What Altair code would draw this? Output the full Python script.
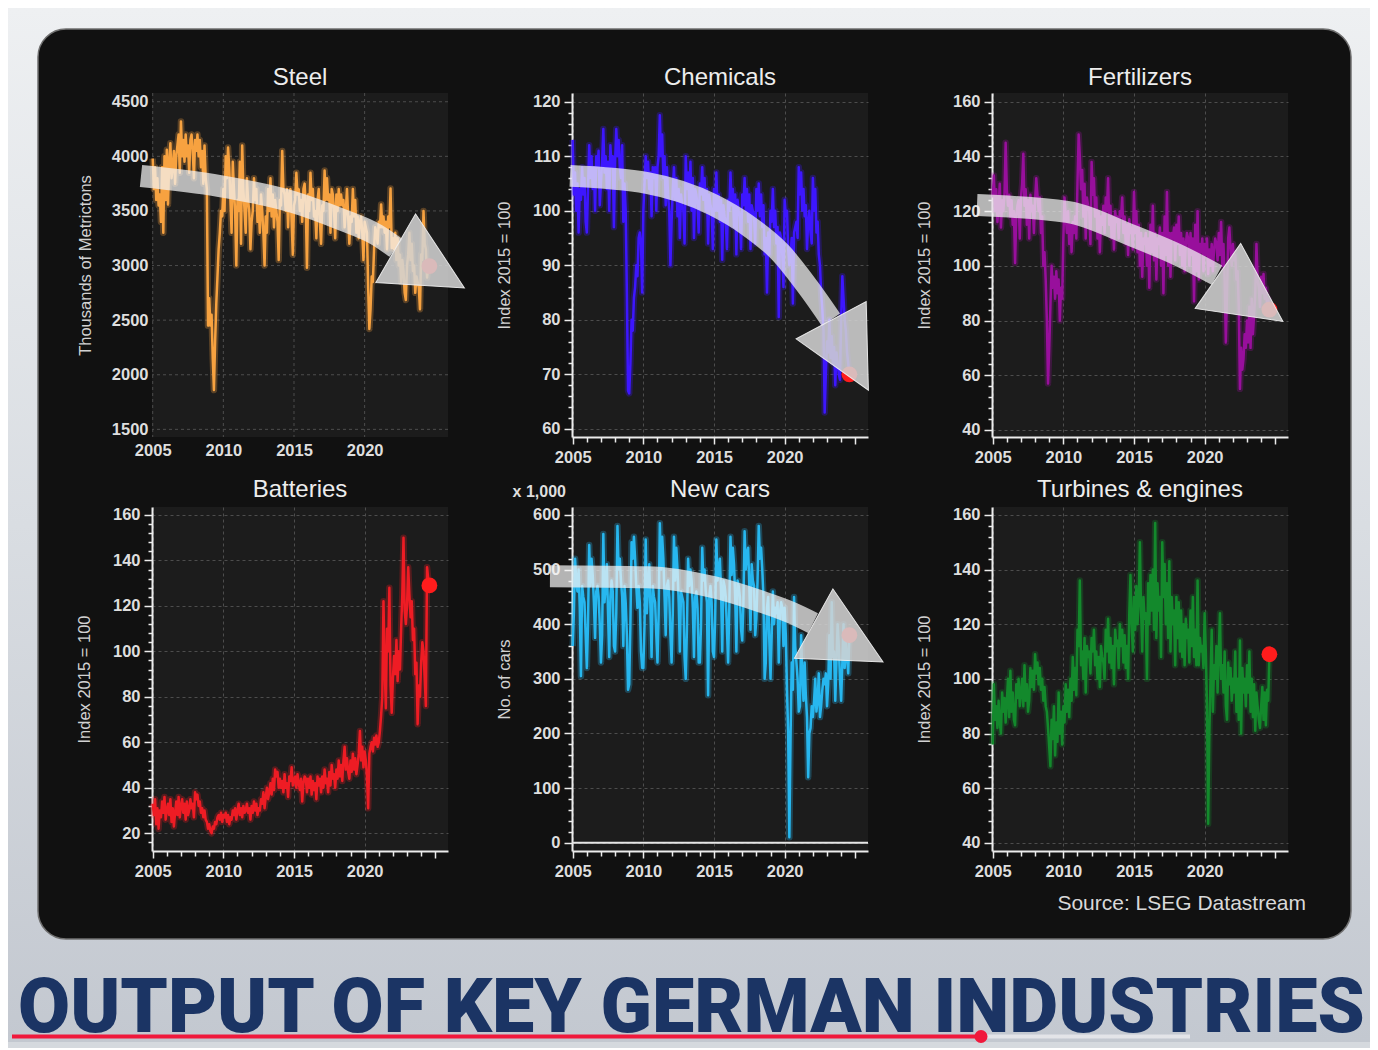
import altair as alt
import pandas as pd

FONT = "Liberation Sans"
START = 2005

# ---------------- monthly series, Jan 2005 .. Aug 2024 ----------------
STEEL = [
 3980, 3700, 3900, 3600, 3800, 3550, 3650, 3400, 3900, 3300, 4000, 3600,
 4060, 3560, 3950, 4120, 3800, 3900, 4050, 3750, 4000, 4100, 4200, 3850,
 4320, 4000, 4150, 3950, 4200, 4000, 4100, 3850, 4150, 4200, 4050, 3800,
 4150, 4050, 4200, 4000, 4150, 3900, 4050, 3750, 4100, 3800, 3700, 2450,
 2700, 2450, 2550, 2150, 1860, 2300, 2650, 2900, 3150, 3300, 3500, 3450,
 3700, 3500, 4000, 3800, 4080, 3900, 3600, 3300, 3950, 3700, 3500, 3000,
 3600, 3500, 3950, 3200, 4100, 3700, 3500, 3300, 3800, 3600, 3500, 3150,
 3400, 3500, 3800, 3600, 3700, 3400, 3550, 3300, 3650, 3500, 3300, 3000,
 3450, 3300, 3700, 3500, 3800, 3450, 3650, 3350, 3600, 3500, 3400, 3050,
 3600, 3550, 4050, 3700, 3650, 3500, 3700, 3350, 3650, 3700, 3400, 3100,
 3550, 3600, 3850, 3650, 3700, 3500, 3600, 3400, 3700, 3750, 3550, 2980,
 3650, 3500, 3850, 3600, 3700, 3450, 3500, 3250, 3600, 3700, 3400, 3200,
 3550, 3500, 3870, 3600, 3800, 3600, 3650, 3300, 3700, 3650, 3500, 3250,
 3650, 3500, 3700, 3550, 3650, 3550, 3600, 3350, 3500, 3700, 3450, 3200,
 3450, 3400, 3700, 3450, 3600, 3300, 3450, 3250, 3400, 3450, 3300, 3050,
 3400, 3350, 3300, 2800, 2420, 2600, 2900, 2850, 3150, 3350, 3300, 3200,
 3400, 3350, 3560, 3350, 3450, 3300, 3400, 3150, 3450, 3350, 3706, 3160,
 3250, 3150, 3300, 3050, 3250, 3000, 3100, 2850, 3050, 2950, 2750, 2684,
 3000, 3100, 3300, 3050, 3200, 2950, 3000, 2750, 2900, 2850, 2800, 2600,
 3100, 3050, 3500, 3200, 3150, 2890, 3000, 2995]

CHEM = [
 113, 103, 107, 100, 105, 96, 104, 102, 108, 103, 106, 98,
 96, 104, 112, 106, 110, 104, 108, 100, 110, 108, 111, 101,
 105, 109, 115, 107, 110, 104, 109, 100, 112, 108, 110, 97,
 109, 115, 110, 113, 108, 106, 112, 98, 105, 100, 85, 67,
 66.5, 72, 80, 78, 84, 86, 90, 88, 95, 96, 94, 85,
 100, 105, 110, 106, 109, 104, 107, 99, 108, 106, 108, 100,
 108, 110, 117.5, 110, 114, 106, 110, 101, 108, 103, 100, 90,
 98, 104, 108, 102, 106, 99, 104, 95, 103, 101, 100, 94,
 110, 104, 107, 101, 109, 100, 106, 95, 104, 103, 101, 96,
 105, 103, 108, 102, 106, 100, 104, 94, 103, 101, 100, 93,
 104, 100, 107, 100, 103, 98, 102, 91, 101, 99, 98, 93,
 102, 100, 107, 101, 104, 97, 103, 92, 102, 100, 99, 93,
 103, 101, 106, 100, 104, 98, 103, 93, 101, 100, 99, 94,
 104, 100, 105, 99, 103, 97, 101, 92, 95, 85, 96, 92,
 100, 98, 104, 97, 100, 94, 97, 80.5, 96, 95, 92, 86,
 102, 99, 100, 93, 90, 92, 95, 83, 96, 97, 98, 95,
 108, 103, 107, 100, 104, 99, 101, 93, 98, 100, 96, 94,
 106, 100, 104, 96, 98, 92, 90, 85, 82, 78, 63, 70,
 76, 74, 80, 73, 77, 72, 75, 68, 74, 72, 70, 69,
 80, 88, 84, 80, 78, 74, 72, 70]

FERT = [
 125, 133, 120, 128, 116, 122, 130, 114, 124, 120, 126, 145,
 128, 122, 126, 118, 124, 115, 120, 101, 118, 122, 124, 110,
 125, 130, 141, 122, 128, 115, 124, 110, 126, 120, 122, 112,
 124, 132, 126, 120, 125, 112, 118, 100, 105, 95, 80, 57,
 70, 85, 100, 92, 96, 88, 98, 90, 95, 80, 92, 88,
 110, 125, 118, 112, 120, 108, 115, 105, 116, 112, 118, 110,
 130, 148, 140, 128, 135, 118, 130, 110, 125, 122, 120, 108,
 138, 126, 132, 118, 125, 110, 120, 105, 118, 115, 122, 112,
 125, 120, 132, 115, 122, 110, 118, 106, 120, 116, 118, 110,
 120, 118, 125, 112, 118, 108, 115, 104, 117, 112, 114, 106,
 127, 112, 120, 105, 115, 100, 112, 96, 110, 108, 112, 100,
 110, 92, 115, 105, 122, 102, 112, 95, 110, 108, 114, 100,
 112, 90, 118, 104, 127, 100, 112, 96, 112, 110, 114, 102,
 115, 108, 118, 104, 112, 100, 110, 98, 108, 112, 110, 100,
 112, 104, 110, 87, 115, 98, 120, 95, 108, 105, 110, 98,
 108, 104, 110, 97, 106, 100, 108, 98, 106, 110, 108, 102,
 112, 104, 116, 100, 108, 95, 72, 90, 110, 114, 106, 100,
 108, 102, 104, 95, 98, 85, 55, 70, 62, 66, 75, 70,
 80, 72, 85, 70, 88, 75, 82, 90, 108, 95, 92, 85,
 96, 90, 97, 88, 92, 86, 88, 84]

BATT = [
 33, 28, 35, 24, 31, 22, 30, 27, 34, 29, 36, 26,
 30, 33, 28, 35, 25, 31, 23, 29, 34, 28, 36, 27,
 32, 35, 29, 33, 26, 34, 28, 30, 35, 31, 33, 27,
 38, 35, 37, 32, 34, 29, 31, 27, 30, 26, 25, 22,
 24, 21, 20, 23, 22, 25, 24, 27, 28, 26, 29, 25,
 28, 27, 29, 25, 28, 24, 27, 26, 30, 28, 31, 26,
 30, 33, 28, 31, 27, 32, 29, 30, 33, 29, 31, 26,
 32, 29, 34, 30, 33, 28, 31, 30, 35, 33, 38, 31,
 36, 40, 35, 38, 42, 37, 44, 39, 48, 45, 47, 40,
 44, 40, 43, 38, 46, 40, 42, 36, 45, 43, 49, 41,
 43, 45, 40, 46, 42, 39, 44, 34, 42, 45, 44, 38,
 44, 40, 45, 37, 43, 39, 42, 35, 45, 41, 44, 38,
 45, 40, 48, 42, 44, 38, 47, 41, 50, 44, 46, 40,
 48, 44, 52, 45, 50, 43, 52, 58, 48, 53, 47, 44,
 52, 47, 55, 48, 53, 46, 50, 55, 65, 52, 58, 49,
 56, 52, 45, 31, 55, 58, 60, 56, 62, 59, 63, 58,
 60, 65, 72, 80, 122, 93, 75, 110, 100, 128, 85, 73,
 88, 98, 90, 105, 87, 100, 92, 110, 125, 150, 118, 112,
 120, 137, 125, 115, 122, 105, 110, 90, 95, 68, 85, 80,
 95, 104, 100, 88, 76, 137, 132, 129]

CARS = [
 360, 420, 520, 480, 460, 500, 430, 305, 470, 450, 440, 380,
 320, 400, 545, 470, 520, 490, 440, 375, 460, 470, 450, 400,
 330, 380, 565, 440, 470, 510, 420, 340, 450, 480, 460, 360,
 350, 420, 580, 500, 520, 480, 450, 360, 470, 440, 380, 280,
 290, 400, 550, 520, 560, 520, 470, 430, 470, 440, 350, 320,
 320, 400, 555, 420, 470, 510, 430, 340, 470, 450, 440, 380,
 330, 420, 585, 500, 560, 520, 450, 380, 470, 480, 450, 380,
 330, 420, 560, 480, 540, 500, 440, 350, 460, 450, 440, 340,
 300, 390, 520, 470, 500, 480, 430, 340, 450, 460, 430, 330,
 330, 400, 540, 480, 500, 460, 440, 270, 450, 470, 440, 350,
 340, 410, 555, 480, 500, 520, 460, 350, 480, 470, 450, 390,
 330, 430, 560, 490, 540, 510, 450, 350, 480, 470, 450, 390,
 370, 440, 570, 500, 530, 540, 470, 390, 510, 480, 470, 380,
 410, 480, 580, 520, 540, 500, 450, 300, 330, 430, 450, 370,
 300, 380, 460, 400, 430, 420, 440, 330, 420, 440, 430, 360,
 430, 380, 280, 200, 10, 190, 330, 280, 450, 360, 330, 300,
 240, 250, 380, 310, 260, 330, 270, 230, 120, 200, 210, 250,
 230, 260, 300, 240, 260, 310, 230, 250, 280, 300, 290, 310,
 250, 290, 380, 300, 440, 340, 350, 260, 330, 400, 360, 300,
 260, 330, 400, 320, 370, 340, 310, 380]

TURB = [
 76, 98, 85, 90, 82, 92, 84, 80, 95, 88, 93, 84,
 92, 100, 86, 103, 88, 95, 85, 83, 98, 93, 100, 90,
 95, 100, 90, 105, 92, 98, 88, 92, 104, 97, 103, 96,
 109, 102, 106, 98, 104, 96, 100, 92, 97, 90, 88, 82,
 75, 68, 85, 78, 90, 72, 84, 77, 95, 80, 88, 76,
 90, 84, 98, 88, 96, 86, 100, 92, 108, 96, 104, 94,
 118, 112, 136, 105, 110, 100, 115, 95, 112, 108, 110, 102,
 115, 110, 118, 105, 110, 100, 108, 97, 112, 108, 106, 100,
 118, 110, 122, 106, 115, 104, 112, 98, 118, 112, 114, 104,
 120, 112, 118, 106, 116, 104, 112, 100, 124, 138, 120, 110,
 130, 118, 134, 120, 128, 150, 125, 110, 130, 122, 124, 100,
 135, 120, 138, 125, 140, 118, 157, 115, 135, 125, 130, 108,
 150, 130, 142, 120, 135, 115, 143, 110, 130, 120, 125, 105,
 130, 115, 128, 110, 125, 108, 120, 105, 122, 115, 118, 106,
 125, 112, 130, 108, 118, 105, 136, 105, 115, 110, 112, 104,
 124, 110, 90, 47, 80, 100, 118, 88, 105, 100, 112, 95,
 110, 124, 100, 105, 95, 110, 90, 85, 106, 98, 104, 92,
 100, 95, 110, 88, 100, 85, 114, 80, 104, 95, 100, 90,
 105, 95, 110, 88, 100, 86, 98, 81, 95, 90, 85, 82,
 90, 97, 85, 95, 83, 96, 92, 109]

# ---------------- hand-drawn trend arrows (data space) ----------------
ARROW_STEEL_T = [2004.17, 2009.76, 2014.93, 2018.26, 2020.87, 2022.22]
ARROW_STEEL_V = [3820, 3728, 3582, 3426, 3280, 3161]
HEAD_STEEL = [2024.63, 2977, 30]
ARROW_CHEM_T = [2004.81, 2010.26, 2014.93, 2017.34, 2019.67, 2021.79, 2023.28]
ARROW_CHEM_V = [106.4, 105.1, 101.1, 97.4, 92.4, 85.5, 80.0]
HEAD_CHEM = [2024.61, 73.5, 62]
ARROW_FERT_T = [2003.89, 2010.26, 2014.93, 2018.26, 2020.87]
ARROW_FERT_V = [122.2, 119.7, 110.9, 103.6, 96.6]
HEAD_FERT = [2023.24, 88.0, 35]
ARROW_CARS_T = [2003.39, 2010.26, 2014.93, 2018.26, 2020.38, 2022.01]
ARROW_CARS_V = [488, 486, 468, 442, 422, 402]
HEAD_CARS = [2024.51, 366, 29]

# ---------------- axes ----------------
X_DOMAIN = [2004.95, 2025.9]
X_TICKS = list(range(2005, 2026))
X_MAJOR = [2005, 2010, 2015, 2020]

W, H = 296, 344
GRID = "#4d4d4d"
HEAD_SHAPE = "M1,0L-1,-1L-1,1Z"
ONE = alt.Data(values=[{}])


def series_df(vals):
    return pd.DataFrame({"t": [START + i / 12 for i in range(len(vals))], "v": vals})


def x_axis(plain):
    if plain:
        return alt.Axis(values=X_MAJOR, format="d", ticks=False, domain=False, grid=False,
                        labelPadding=5, title=None, zindex=1)
    return alt.Axis(values=X_TICKS, format="d",
                    labelExpr="datum.value % 5 === 0 && datum.value < 2025 ? datum.label : ''",
                    tickSize={"condition": {"test": "datum.value % 5 === 0", "value": 7}, "value": 5},
                    gridOpacity={"condition": {"test": "datum.value % 5 === 0 && datum.value < 2025", "value": 1}, "value": 0},
                    grid=True, labelPadding=5, title=None)


def y_axis(values, major, title, tpad, plain=False):
    if plain:
        return alt.Axis(values=values, format="d", ticks=False, domain=False, grid=False,
                        labelPadding=4, title=title, titlePadding=tpad, zindex=1)
    return alt.Axis(values=values, format="d",
                    labelExpr=f"datum.value % {major} === 0 ? datum.label : ''",
                    tickSize={"condition": {"test": f"datum.value % {major} === 0", "value": 8}, "value": 4},
                    gridOpacity={"condition": {"test": f"datum.value % {major} === 0", "value": 1}, "value": 0},
                    grid=True, labelPadding=4, title=title, titlePadding=tpad)


def panel(vals, color, ydom, xax, yax, title, title_y, arrow=None, before=(), mid=(), after=()):
    X = alt.X("t:Q", scale=alt.Scale(domain=X_DOMAIN, nice=False, zero=False), axis=xax)
    Y = alt.Y("v:Q", scale=alt.Scale(domain=ydom, nice=False, zero=False), axis=yax)
    df = series_df(vals)
    layers = [f(X, Y) for f in before]
    layers += [f(X, Y) for f in mid]
    layers.append(alt.Chart(df).mark_line(color=color, strokeWidth=6.5, opacity=0.28,
                                          strokeJoin="round").encode(x=X, y=Y))
    layers.append(alt.Chart(df).mark_line(color=color, strokeWidth=2.5,
                                          strokeJoin="round").encode(x=X, y=Y))
    last = pd.DataFrame({"t": [df.t.iloc[-1]], "v": [df.v.iloc[-1]]})
    layers.append(alt.Chart(last).mark_circle(color="#ff1c1c", size=250, opacity=1).encode(x=X, y=Y))
    if arrow is not None:
        at, av, head = arrow
        layers.append(alt.Chart(pd.DataFrame({"t": at, "v": av})).mark_line(
            color="#f4f4f4", strokeWidth=22, opacity=0.72, strokeCap="butt",
            interpolate="monotone").encode(x=X, y=Y))
        layers.append(alt.Chart(pd.DataFrame({"t": [head[0]], "v": [head[1]]})).mark_point(
            shape=HEAD_SHAPE, filled=True, size=6300, angle=head[2], fill="#d4d4d4",
            fillOpacity=0.86, stroke="#f2f2f2", strokeWidth=1, strokeOpacity=0.9,
            opacity=1).encode(x=X, y=Y))
    layers += [f(X, Y) for f in after]
    layers.append(alt.Chart(ONE).mark_text(text=title, font=FONT, fontSize=24, color="#ededed",
                                           align="center", baseline="alphabetic").encode(
        x=alt.value(W / 2), y=alt.value(title_y)))
    return alt.layer(*layers).properties(width=W, height=H)


# ---- decorations hosted in the first panel (pixel offsets from its plot origin) ----
def page_bg(X, Y):
    return alt.Chart(ONE).mark_rect(fill={
        "gradient": "linear", "x1": 0, "y1": 0, "x2": 0, "y2": 1,
        "stops": [{"offset": 0, "color": "#eef0f2"}, {"offset": 0.5, "color": "#d9dde2"},
                  {"offset": 1, "color": "#c3c8d0"}]}).encode(
        x=alt.value(-144), x2=alt.value(1218), y=alt.value(-85), y2=alt.value(949))


def frame(X, Y):
    return alt.Chart(ONE).mark_rect(fill="#111111", cornerRadius=28, stroke="#707070",
                                    strokeWidth=1.5).encode(
        x=alt.value(-114), x2=alt.value(1199), y=alt.value(-64), y2=alt.value(846))


def big_title(X, Y):
    return alt.Chart(ONE).mark_text(text="OUTPUT OF KEY GERMAN INDUSTRIES", font="Roboto",
                                    fontWeight=900, fontSize=75.5, color="#1b3464",
                                    align="left", baseline="alphabetic").encode(
        x=alt.value(-134), y=alt.value(939))


def progress(X, Y):
    return alt.layer(
        alt.Chart(ONE).mark_rule(color="#e9e9ec", strokeWidth=4, opacity=0.85).encode(
            x=alt.value(828), x2=alt.value(1038), y=alt.value(943.5)),
        alt.Chart(ONE).mark_rule(color="#f0183c", strokeWidth=4).encode(
            x=alt.value(-140), x2=alt.value(828), y=alt.value(943.5)),
        alt.Chart(ONE).mark_circle(color="#f0183c", size=170, opacity=1).encode(
            x=alt.value(829), y=alt.value(943.5)),
    )


def source(X, Y):
    return alt.Chart(ONE).mark_text(text="Source: LSEG Datastream", font=FONT, fontSize=21,
                                    color="#d9d9d9", align="right", baseline="alphabetic").encode(
        x=alt.value(1154), y=alt.value(817))


def plot_bg(X, Y):
    return alt.Chart(ONE).mark_rect(fill="#1c1c1c").encode(
        x=alt.value(0), x2=alt.value(W), y=alt.value(0), y2=alt.value(H))


STEEL_GRID_Y = [1500, 2000, 2500, 3000, 3500, 4000, 4500]


def steel_grid(X, Y):
    return alt.layer(
        alt.Chart(pd.DataFrame({"v": STEEL_GRID_Y})).mark_rule(
            color=GRID, strokeDash=[3, 3], strokeWidth=1).encode(y=Y),
        alt.Chart(pd.DataFrame({"t": X_MAJOR})).mark_rule(
            color=GRID, strokeDash=[3, 3], strokeWidth=1).encode(x=X),
    )


def cars_zero(X, Y):
    return alt.Chart(pd.DataFrame({"v": [0]})).mark_rule(color="#e6e6e6", strokeWidth=2).encode(y=Y)


def cars_unit(X, Y):
    return alt.Chart(ONE).mark_text(text="x 1,000", font=FONT, fontSize=16, fontWeight="bold",
                                    color="#dedede", align="right", baseline="alphabetic").encode(
        x=alt.value(-6), y=alt.value(-10))


steel = panel(STEEL, "#f7a240", [1430, 4580], x_axis(True),
              y_axis(STEEL_GRID_Y, 500, "Thousands of Metrictons", 18, plain=True), "Steel", -8,
              arrow=(ARROW_STEEL_T, ARROW_STEEL_V, HEAD_STEEL),
              before=(page_bg, frame, big_title, progress, source, plot_bg, steel_grid))

chem = panel(CHEM, "#3d16ff", [58.5, 121.6], x_axis(False),
             y_axis(list(range(60, 121, 2)), 10, "Index 2015 = 100", 20), "Chemicals", -8,
             arrow=(ARROW_CHEM_T, ARROW_CHEM_V, HEAD_CHEM))

fert = panel(FERT, "#980f9c", [37.4, 163.2], x_axis(False),
             y_axis(list(range(40, 161, 4)), 20, "Index 2015 = 100", 20), "Fertilizers", -8,
             arrow=(ARROW_FERT_T, ARROW_FERT_V, HEAD_FERT))

batt = panel(BATT, "#ee1c24", [12.2, 163.5], x_axis(False),
             y_axis(list(range(16, 161, 4)), 20, "Index 2015 = 100", 20), "Batteries", -10)

cars = panel(CARS, "#27b7ef", [-15.2, 614.6], x_axis(False),
             y_axis(list(range(0, 601, 20)), 100, "No. of cars", 20), "New cars", -10,
             arrow=(ARROW_CARS_T, ARROW_CARS_V, HEAD_CARS),
             mid=(cars_zero,), after=(cars_unit,))

turb = panel(TURB, "#13892c", [37, 162.9], x_axis(False),
             y_axis(list(range(40, 161, 4)), 20, "Index 2015 = 100", 20), "Turbines & engines", -10)

chart = alt.concat(steel, chem, fert, batt, cars, turb, columns=3,
                   spacing={"row": 70, "column": 124}, bounds="flush").properties(
    padding=0, background="#d5d9de"
).configure_view(fill="#1c1c1c", strokeWidth=0).configure_axis(
    labelFont=FONT, labelFontSize=16.5, labelFontWeight="bold", labelColor="#dedede",
    titleFont=FONT, titleFontSize=16.5, titleFontWeight="normal", titleColor="#d2d2d2",
    domainColor="#ececec", domainWidth=2, tickColor="#ececec", tickWidth=1.5,
    gridColor=GRID, gridDash=[3, 3], gridWidth=1, labelFlush=False, labelOverlap=False
)

chart.save("out.html", embed_options={"renderer": "svg", "actions": False})
